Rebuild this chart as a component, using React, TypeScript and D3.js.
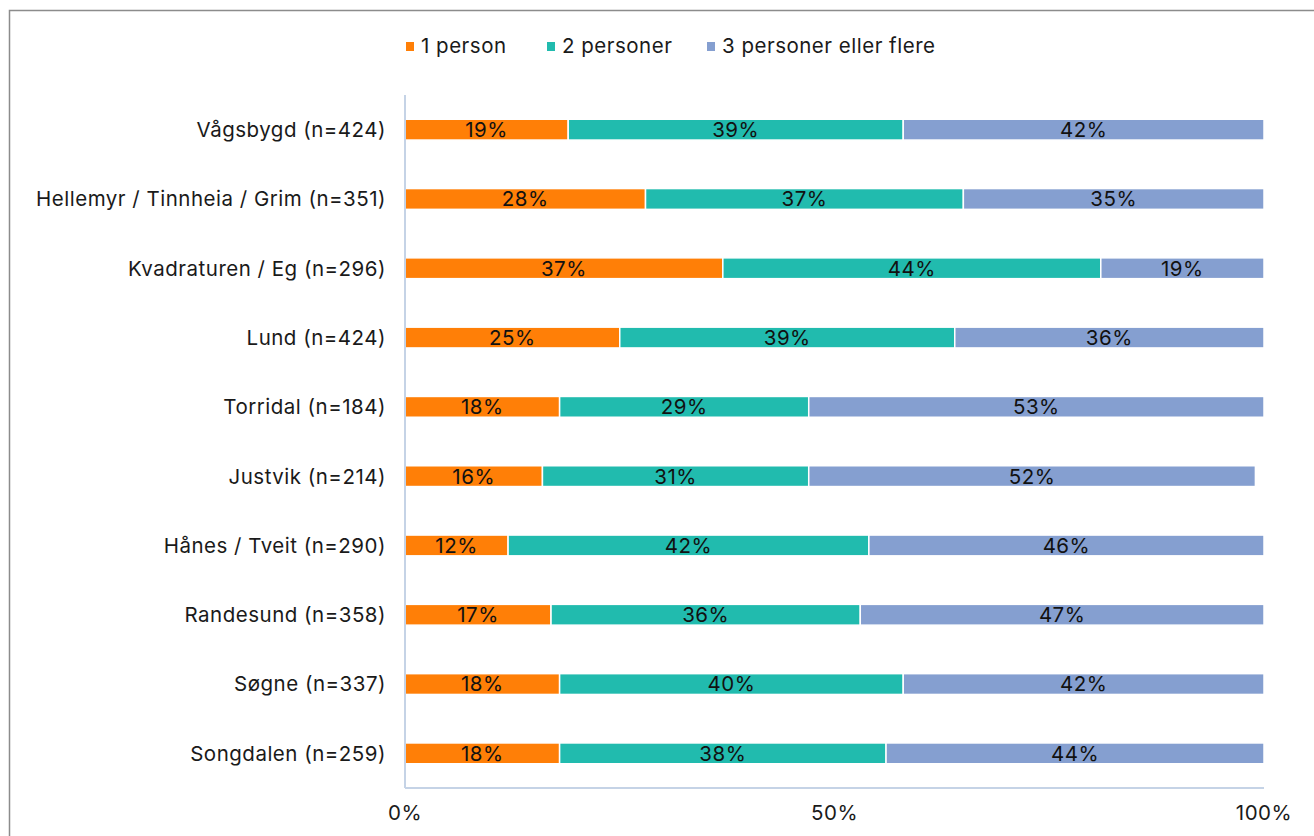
import * as d3 from 'd3';

const categories = [
  'Vågsbygd (n=424)',
  'Hellemyr / Tinnheia / Grim (n=351)',
  'Kvadraturen / Eg (n=296)',
  'Lund (n=424)',
  'Torridal (n=184)',
  'Justvik (n=214)',
  'Hånes / Tveit (n=290)',
  'Randesund (n=358)',
  'Søgne (n=337)',
  'Songdalen (n=259)',
];
const seriesNames = ['1 person', '2 personer', '3 personer eller flere'];
const seriesColors = ['#ff7f07', '#21bbae', '#859fd0'];
const onePerson = [19, 28, 37, 25, 18, 16, 12, 17, 18, 18];
const twoPersons = [39, 37, 44, 39, 29, 31, 42, 36, 40, 38];
const threePlus = [42, 35, 19, 36, 53, 52, 46, 47, 42, 44];
const xTicks = [0, 50, 100];

const W = 1314;
const H = 836;
const FONT = 'Inter, "Noto Sans", sans-serif';
const FS = 20.5;
const LS = 0.5;

export default function App() {
  const margin = { left: 405, right: 50, top: 95, bottom: 48 };
  const x = d3.scaleLinear().domain([0, 100]).range([margin.left, W - margin.right]);
  const y = d3.scaleBand<string>().domain(categories).range([margin.top, H - margin.bottom]).paddingInner(0.7).paddingOuter(0.35);

  const table = categories.map((c, i) => ({ cat: c, s0: onePerson[i], s1: twoPersons[i], s2: threePlus[i] }));
  const stack = d3.stack<any>().keys(['s0', 's1', 's2'])(table);

  const legendX = [406, 547, 707];

  return (
    <svg width={W} height={H} style={{ position: 'absolute', left: 0, top: 0, background: '#fff' }} fontFamily={FONT} letterSpacing={LS}>
      <rect x={9.5} y={10.5} width={W + 20} height={H + 20} fill="#fff" stroke="#8c8c8c" strokeWidth={1.5} />
      {/* legend */}
      {seriesNames.map((s, i) => (
        <g key={s}>
          <rect x={legendX[i]} y={42} width={8} height={9} fill={seriesColors[i]} />
          <text x={legendX[i] + 15} y={53} fontSize={FS} fill="#1a1a1a">{s}</text>
        </g>
      ))}
      {/* bars */}
      {stack.map((layer, si) => (
        <g key={si}>
          {layer.map((d, i) => (
            <g key={i}>
              <rect
                x={x(d[0])}
                y={y(categories[i])!}
                width={x(d[1]) - x(d[0])}
                height={y.bandwidth()}
                fill={seriesColors[si]}
                stroke="#fff"
                strokeWidth={1.5}
              />
              <text
                x={(x(d[0]) + x(d[1])) / 2}
                y={y(categories[i])! + y.bandwidth() / 2}
                dy="0.36em"
                textAnchor="middle"
                fontSize={FS}
                fill="#111"
              >
                {d[1] - d[0]}%
              </text>
            </g>
          ))}
        </g>
      ))}
      {/* axes */}
      <line x1={x(0)} x2={x(0)} y1={margin.top} y2={H - margin.bottom} stroke="#c5d3e6" strokeWidth={2} />
      <line x1={x(0)} x2={x(100)} y1={H - margin.bottom} y2={H - margin.bottom} stroke="#c5d3e6" strokeWidth={2} />
      {categories.map((c) => (
        <text key={c} x={386} y={y(c)! + y.bandwidth() / 2} dy="0.36em" textAnchor="end" fontSize={FS} fill="#1a1a1a">
          {c}
        </text>
      ))}
      {xTicks.map((t) => (
        <text key={t} x={x(t)} y={820} textAnchor="middle" fontSize={FS} fill="#1a1a1a">
          {t}%
        </text>
      ))}
    </svg>
  );
}
